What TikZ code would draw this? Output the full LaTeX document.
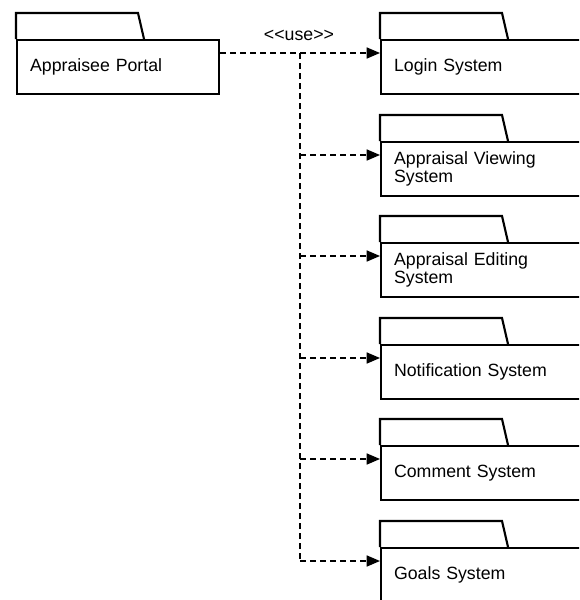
\documentclass[tikz,border=0pt]{standalone}
\usepackage{fontspec}
\setmainfont{Liberation Sans}
\usetikzlibrary{arrows.meta}

\begin{document}
\begin{tikzpicture}[x=0.75pt,y=-0.75pt,
  txt/.style={font=\fontsize{13.3}{13.7}\selectfont},
  pkg/.style={txt, draw, line width=1.6pt, anchor=north west,
    minimum height=40.5pt, inner xsep=9.75pt, inner ysep=0pt, align=left},
  portalbox/.style={pkg, minimum width=151.5pt, text width=132pt},
  subbox/.style={pkg, minimum width=165pt, text width=145.5pt},
  tab/.style={line width=1.6pt, line join=miter},
  dep/.style={dashed, dash pattern=on 4.5pt off 3pt, line width=1.2pt,
    -{Triangle[length=10pt,width=8.25pt]}},
  bus/.style={dashed, dash pattern=on 4.5pt off 3pt, line width=1.2pt},
]
\useasboundingbox (0,0) rectangle (579,600);
\clip (0,0) rectangle (579,600);

% client package
\node[portalbox] (portal) at (16,39) {Appraisee Portal};
\draw[tab] (portal.north west) -- ++(0,-26) -- ++(122,0) -- ++(6,26);

% supplier packages, stacked down the right-hand column
\foreach \k/\top/\label in {0/39/{Login System},
                            1/141/{Appraisal Viewing\\System},
                            2/242/{Appraisal Editing\\System},
                            3/344/{Notification System},
                            4/445/{Comment System},
                            5/547/{Goals System}} {
  \node[subbox] (b\k) at (380,\top) {\label};
  \draw[tab] (b\k.north west) -- ++(0,-26) -- ++(122,0) -- ++(6,26);
  \coordinate (in\k) at ([yshift=-10.5pt]b\k.north west);
}

% dependency connectors
\coordinate (out) at ([yshift=-10.5pt]portal.north east);
\coordinate (trunk) at (300,53);
\draw[dep] (out) -- (in0);
\draw[bus] (trunk |- in0) -- (trunk |- in5);
\draw[dep] (trunk |- in5) -- (in5);
\foreach \k in {1,2,3,4} {
  \draw[dep] (trunk |- in\k) -- (in\k);
}

\node[txt] (use) at (299,35) {{<}{<}use{>}{>}};
\end{tikzpicture}
\end{document}
